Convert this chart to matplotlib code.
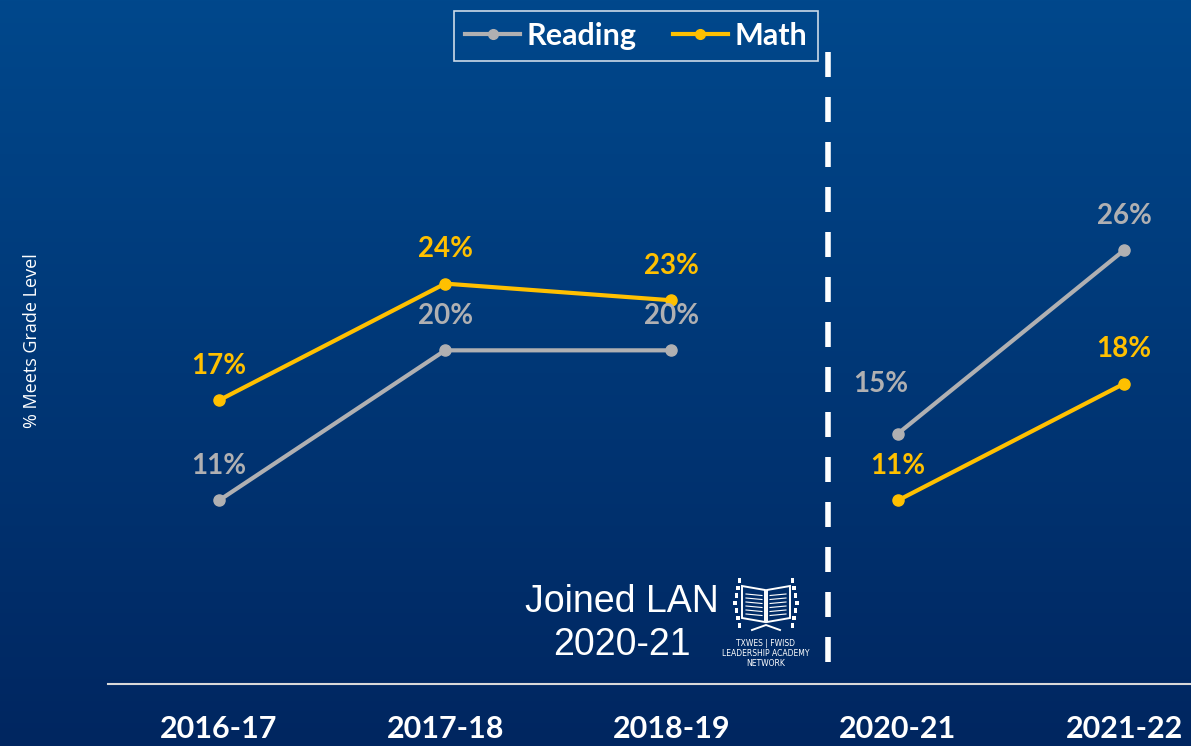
import numpy as np
import matplotlib
matplotlib.use("Agg")
import matplotlib.pyplot as plt
from matplotlib.lines import Line2D
from matplotlib.patches import Polygon, Rectangle

# ── Data ──────────────────────────────────────────────────────────────────────
years   = ["2016-17", "2017-18", "2018-19", "2020-21", "2021-22"]
reading = [11, 20, 20, 15, 26]
math    = [17, 24, 23, 11, 18]
pre_idx  = [0, 1, 2]
post_idx = [3, 4]

GRAY = "#B0B0B2"
GOLD = "#FFC000"
FONT = "Lato"

fig = plt.figure(figsize=(11.91, 7.46), dpi=100)

# background gradient
bg = fig.add_axes([0, 0, 1, 1], zorder=-10)
grad = np.linspace(0, 1, 256).reshape(-1, 1)
top = np.array([0, 72, 140]) / 255
bot = np.array([0, 38, 96]) / 255
img = top[None, None, :] * (1 - grad[:, :, None]) + bot[None, None, :] * grad[:, :, None]
bg.imshow(img, aspect="auto", extent=[0, 1, 0, 1])
bg.axis("off")

# main axes: left edge at x=108px, bottom at y=684px
ax = fig.add_axes([108 / 1191, 62 / 746, 1 - 108 / 1191, 684 / 746])
ax.patch.set_alpha(0)
ax.set_xlim(-0.49, 4.296)
ax.set_ylim(0, 41.0)

x = np.arange(len(years))
for idx in (pre_idx, post_idx):
    ax.plot(x[idx], [reading[i] for i in idx], color=GRAY, lw=3, marker="o",
            ms=8, solid_capstyle="round", zorder=3)
    ax.plot(x[idx], [math[i] for i in idx], color=GOLD, lw=3, marker="o",
            ms=8, solid_capstyle="round", zorder=3)

# data labels
for i in x:
    dx = -12 if i == 3 else 0
    dy = 36 if i == 3 else 25
    ax.annotate(f"{reading[i]}%", (i, reading[i]), xytext=(dx, dy),
                textcoords="offset points", ha="center", va="center",
                color=GRAY, fontsize=20, fontweight="bold", family=FONT)
    ax.annotate(f"{math[i]}%", (i, math[i]), xytext=(0, 25),
                textcoords="offset points", ha="center", va="center",
                color=GOLD, fontsize=20, fontweight="bold", family=FONT)

# dashed divider
ax.plot([2.69, 2.69], [1.3, 39.0], color="white", lw=4, dashes=(4.5, 3.6), zorder=2)

ax.set_xticks(x)
ax.set_xticklabels(years, color="white", fontsize=22, fontweight="bold", family=FONT)
ax.tick_params(axis="x", length=0, pad=22)
ax.set_yticks([])
for s in ["top", "right", "left"]:
    ax.spines[s].set_visible(False)
ax.spines["bottom"].set_color("#D9D9D9")
ax.spines["bottom"].set_linewidth(1.5)

fig.text(32 / 1191, 1 - 341 / 746, "% Meets Grade Level", rotation=90, ha="center",
         va="center", color="white", fontsize=13, family="Open Sans")

# legend
handles = [Line2D([], [], color=GRAY, lw=3, marker="o", ms=7),
           Line2D([], [], color=GOLD, lw=3, marker="o", ms=7)]
leg = fig.legend(handles, ["Reading", "Math"], loc="center",
                 bbox_to_anchor=(636 / 1191, 1 - 36 / 746), ncol=2, frameon=True,
                 handlelength=1.8, handletextpad=0.2, columnspacing=1.2,
                 prop={"family": FONT, "weight": "bold", "size": 22},
                 fancybox=False, borderpad=0.35)
leg.get_frame().set_facecolor("none")
leg.get_frame().set_edgecolor("white")
leg.get_frame().set_linewidth(1.2)
for t in leg.get_texts():
    t.set_color("white")

# annotation
fig.text(622 / 1191, 1 - 602 / 746, "Joined LAN", ha="center", va="center",
         color="white", fontsize=27, family="Liberation Sans")
fig.text(622 / 1191, 1 - 645 / 746, "2020-21", ha="center", va="center",
         color="white", fontsize=27, family="Liberation Sans")

# logo (simple book emblem)
lg = fig.add_axes([722 / 1191, 1 - 676 / 746, 88 / 1191, 104 / 746])
lg.set_xlim(0, 88)
lg.set_ylim(104, 0)
lg.axis("off")
lg.add_patch(Polygon([[20, 14], [43, 18], [43, 50], [20, 46]], closed=True,
                     fill=False, ec="white", lw=1.4))
lg.add_patch(Polygon([[45, 18], [68, 14], [68, 46], [45, 50]], closed=True,
                     fill=False, ec="white", lw=1.4))
for k in range(6):
    yy = 22 + k * 4
    lg.plot([24, 40], [yy, yy + 1.5], color="white", lw=0.8)
    lg.plot([48, 64], [yy + 1.5, yy], color="white", lw=0.8)
for side in (-1, 1):
    for k in range(7):
        cx = 44 + side * (31 - abs(k - 3) * 1.5)
        cy = 6 + k * 7.5
        lg.add_patch(Rectangle((cx - 1.8, cy), 3.6, 4.5, color="white", lw=0))
lg.plot([30, 44, 58], [58, 53, 58], color="white", lw=1.4)
lg.text(44, 71, "TXWES | FWISD", ha="center", va="center", color="white",
        fontsize=5.5, family="DejaVu Sans")
lg.text(44, 82, "LEADERSHIP ACADEMY", ha="center", va="center", color="white",
        fontsize=5.5, family="DejaVu Sans")
lg.text(44, 92, "NETWORK", ha="center", va="center", color="white",
        fontsize=5.5, family="DejaVu Sans")

fig.savefig("out.png", dpi=100)
